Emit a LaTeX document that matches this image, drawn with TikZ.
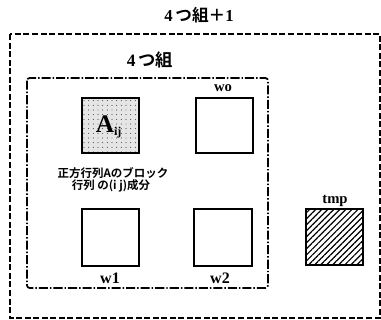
\documentclass[tikz,border=0pt]{standalone}
\usepackage{fontspec}
\setmainfont{Liberation Serif}
\newfontfamily\jp{Noto Sans CJK JP}[BoldFont={Noto Sans CJK JP Bold}]
\usetikzlibrary{patterns,patterns.meta}
\begin{document}
\begin{tikzpicture}[x=0.75pt,y=-0.75pt,
  box/.style={draw,line width=1.3pt},
  lbl/.style={font=\bfseries\fontsize{11}{12}\selectfont, inner sep=0pt},
  jlbl/.style={font=\jp\bfseries\fontsize{8.6}{10}\selectfont, inner sep=0pt, align=center}]
\useasboundingbox (0,0) rectangle (381,320);
% outer dashed frame
\draw[line width=1.3pt, dash pattern=on 4.5pt off 1.9pt] (10,34) rectangle (380,318);
% inner dash-dot frame
\draw[line width=1.3pt, dash pattern=on 6.8pt off 1.5pt on 1.1pt off 1.5pt, rounded corners=2pt] (27,78) rectangle (268,288);
% boxes
\draw[box, fill=gray!20] (82,98) rectangle (139,153);
\fill[pattern={Dots[distance=3.5pt,radius=0.35pt]}, pattern color=black] (82,98) rectangle (139,153);
\draw[box] (82,98) rectangle (139,153);
\node[inner sep=0pt] (aij) at (109,127) {\bfseries\fontsize{19}{19}\selectfont A\textsubscript{\fontsize{9}{9}\selectfont ij}};
\draw[box] (196,98) rectangle (253,153);
\draw[box] (82,209) rectangle (139,266);
\draw[box] (194,209) rectangle (252,266);
\fill[pattern={Lines[angle=45,distance=3.2pt,line width=0.9pt]}, pattern color=black] (306,209) rectangle (363,265);
\draw[box] (306,209) rectangle (363,265);
% labels
\node[lbl, font=\bfseries\fontsize{12.5}{14}\selectfont] (t1) at (199,15) {4\,{\jp つ組＋}1};
\node[lbl, font=\bfseries\fontsize{13}{14}\selectfont] (t2) at (150,60) {4\,{\jp つ組}};
\node[lbl] (wo) at (223,88) {wo};
\node[lbl] (tmp) at (335,201) {tmp};
\node[lbl, font=\bfseries\fontsize{12}{13}\selectfont] (w1) at (110,278) {w1};
\node[lbl, font=\bfseries\fontsize{12}{13}\selectfont] (w2) at (220,278) {w2};
\node[jlbl] (d1) at (113,173) {正方行列Aのブロック};
\node[jlbl] (d2) at (111,186) {行列 の(i j)成分};
\end{tikzpicture}
\end{document}
